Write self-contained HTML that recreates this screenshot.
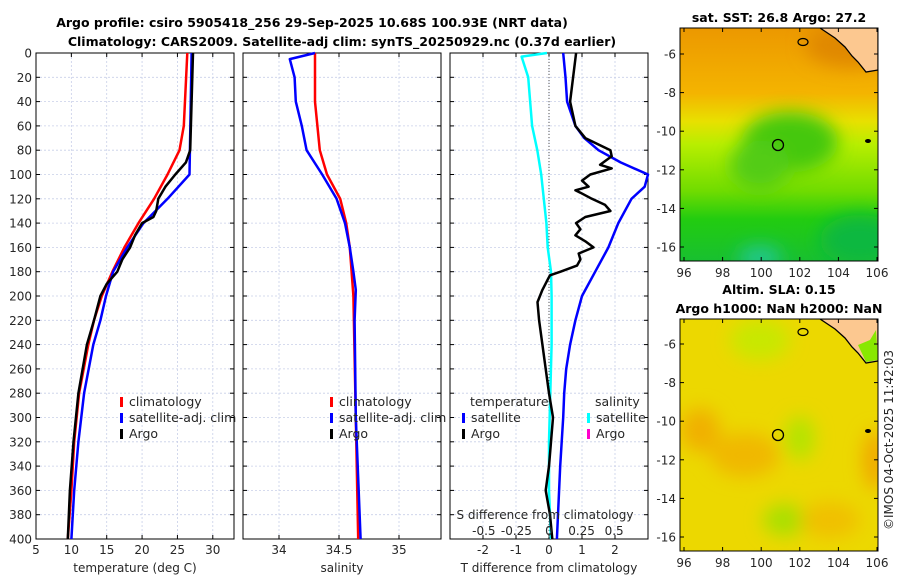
<!DOCTYPE html>
<html><head><meta charset="utf-8">
<style>
body{margin:0;background:#fff;}
svg text{font-family:"DejaVu Sans","Liberation Sans",sans-serif;fill:#262626;}
.t{font-weight:bold;font-size:12.5px;fill:#000;}
.tk{font-size:12px;}
.grid{stroke:#c8cfe8;stroke-width:0.8;stroke-dasharray:2,2;}
</style></head>
<body>
<svg id="chart" width="900" height="580" xmlns="http://www.w3.org/2000/svg">
<defs>
<filter id="bl" x="-50%" y="-50%" width="200%" height="200%"><feGaussianBlur stdDeviation="9"/></filter>
<clipPath id="c1"><rect x="680" y="28" width="198" height="233"/></clipPath>
<clipPath id="c2"><rect x="680" y="319" width="198" height="232"/></clipPath>
<linearGradient id="g1" x1="0" y1="0" x2="0" y2="1">
<stop offset="0" stop-color="#ec9800"/><stop offset="0.28" stop-color="#f4b400"/><stop offset="0.4" stop-color="#e8e000"/><stop offset="0.5" stop-color="#b8ee00"/><stop offset="0.7" stop-color="#70dc00"/><stop offset="0.82" stop-color="#22cc10"/><stop offset="1" stop-color="#18c030"/>
</linearGradient>
</defs>
<text class="t" x="312" y="27" text-anchor="middle">Argo profile: csiro 5905418_256 29-Sep-2025 10.68S 100.93E (NRT data)</text>
<text class="t" x="342" y="46" text-anchor="middle">Climatology: CARS2009. Satellite-adj clim: synTS_20250929.nc (0.37d earlier)</text>
<g id="axes"></g>
<g id="maps">
<g clip-path="url(#c1)">
<rect x="680" y="28" width="198" height="233" fill="url(#g1)"/>
<g filter="url(#bl)">
<ellipse cx="790" cy="142" rx="48" ry="30" fill="#44c810"/>
<ellipse cx="760" cy="165" rx="30" ry="25" fill="#52cc12"/>
<ellipse cx="760" cy="258" rx="22" ry="12" fill="#20c890"/>
<ellipse cx="860" cy="240" rx="40" ry="25" fill="#10b840"/>
<ellipse cx="850" cy="45" rx="45" ry="22" fill="#e08800"/>
</g>
<polygon points="820,28 835,38 845,47 852,56 858,62 866,72 878,70 878,28" fill="#fcc890" stroke="#000" stroke-width="1.3"/>
<ellipse cx="803" cy="42" rx="5" ry="3.5" fill="none" stroke="#000" stroke-width="1.2"/>
<ellipse cx="868" cy="141" rx="3" ry="2" fill="#000"/>
<circle cx="778" cy="145" r="5.5" fill="none" stroke="#000" stroke-width="1.3"/>
</g>
<rect x="680" y="28" width="198" height="233" fill="none" stroke="#000" stroke-width="1"/>
<g clip-path="url(#c2)">
<rect x="680" y="319" width="198" height="232" fill="#ecd800"/>
<g filter="url(#bl)">
<ellipse cx="700" cy="430" rx="20" ry="22" fill="#f0b000"/>
<ellipse cx="745" cy="455" rx="35" ry="22" fill="#f0b800"/>
<ellipse cx="875" cy="460" rx="12" ry="30" fill="#f0a800"/>
<ellipse cx="785" cy="520" rx="22" ry="16" fill="#a8e000"/>
<ellipse cx="800" cy="438" rx="15" ry="22" fill="#b4e400"/>
<ellipse cx="760" cy="340" rx="30" ry="20" fill="#c8e800"/>
<ellipse cx="830" cy="520" rx="30" ry="18" fill="#f0c000"/>
</g>
<polygon points="820,319 835,329 845,338 852,347 858,353 866,363 878,361 878,319" fill="#fcc890" stroke="#000" stroke-width="1.3"/>
<polygon points="858,345 870,340 876,330 878,360 866,362" fill="#88e800"/>
<ellipse cx="803" cy="332" rx="5" ry="3.5" fill="none" stroke="#000" stroke-width="1.2"/>
<ellipse cx="868" cy="431" rx="3" ry="2" fill="#000"/>
<circle cx="778" cy="435" r="5.5" fill="none" stroke="#000" stroke-width="1.3"/>
</g>
<rect x="680" y="319" width="198" height="232" fill="none" stroke="#000" stroke-width="1"/>
<text class="t" x="779" y="22" text-anchor="middle">sat. SST: 26.8 Argo: 27.2</text>
<text class="t" x="779" y="294" text-anchor="middle">Altim. SLA: 0.15</text>
<text class="t" x="779" y="313" text-anchor="middle">Argo h1000: NaN h2000: NaN</text>
<text class="tk" transform="translate(893,440) rotate(-90)" text-anchor="middle">©IMOS 04-Oct-2025 11:42:03</text>
</g>
</svg>
<script>
const NS="http://www.w3.org/2000/svg";
const depthTicks=[0,20,40,60,80,100,120,140,160,180,200,220,240,260,280,300,320,340,360,380,400];
const tempTicks=[5,10,15,20,25,30];
const salTicks=[34,34.5,35];
const tdiffTicks=[-2,-1,0,1,2];
const sdiffTicks=[-0.5,-0.25,0,0.25,0.5];
const sdiffLabels=["-0.5","-0.25","0","0.25","0.5"];
// temperature profiles [depth, value]
const tClimDepth=[0,60,80,100,120,140,160,180,200,220,240,280,320,360,400];
const tClimVal=[26.4,25.9,25.3,23.6,21.7,19.5,17.5,15.8,14.3,13.2,12.4,11.1,10.4,10.0,9.5];
const tSatDepth=[0,100,120,140,160,180,200,220,240,280,320,360,400];
const tSatVal=[27.0,26.7,23.6,20.2,17.9,15.9,14.9,14.1,13.1,11.8,11.0,10.4,10.0];
const tArgoDepth=[0,80,90,100,110,120,130,135,140,150,160,170,180,190,200,220,240,280,320,360,400];
const tArgoVal=[27.2,26.8,26.2,24.7,23.3,22.3,22.0,21.6,20.0,19.0,18.3,17.2,16.5,15.0,14.1,13.2,12.2,11.0,10.3,9.8,9.5];
// salinity
const sClimDepth=[0,40,80,100,120,140,160,200,300,400];
const sClimVal=[34.30,34.30,34.34,34.40,34.51,34.56,34.59,34.62,34.64,34.66];
const sSatDepth=[0,5,20,40,60,80,100,120,140,160,180,195,220,300,400];
const sSatVal=[34.30,34.09,34.13,34.14,34.19,34.23,34.36,34.48,34.55,34.59,34.62,34.64,34.63,34.64,34.68];
// differences
const dTSatDepth=[0,20,40,60,70,80,90,100,110,120,140,160,180,200,220,240,260,280,300,340,400];
const dTSatVal=[0.43,0.5,0.55,0.8,1.07,1.5,2.17,3.0,2.9,2.5,2.1,1.8,1.4,1.0,0.8,0.64,0.52,0.46,0.43,0.34,0.24];
const dTArgoDepth=[0,20,40,60,70,80,85,92,95,100,105,110,113,115,120,125,130,135,140,145,150,155,160,165,170,175,180,183,186,195,205,220,240,260,280,300,320,340,360,380,400];
const dTArgoVal=[0.82,0.73,0.64,0.8,1.1,1.86,1.9,1.55,1.9,1.25,1.0,1.2,0.8,0.95,1.3,1.7,1.86,1.1,0.82,0.95,0.8,1.1,1.35,0.9,0.95,0.85,0.35,0.03,-0.03,-0.2,-0.35,-0.3,-0.2,-0.1,0,0.12,0.06,0,-0.1,0.03,0.1];
const dSSatDepth=[0,3,20,60,80,100,140,160,180,200,240,280,320,360,400];
const dSSatVal=[-0.015,-0.21,-0.16,-0.13,-0.09,-0.06,-0.02,-0.01,0.015,0.02,0.02,0.01,0,0,0.015];

const Y0=53,Y1=539;
const yS=d=>Y0+d/400*(Y1-Y0);
function lin(d0,d1,r0,r1){return v=>r0+(v-d0)/(d1-d0)*(r1-r0);}
const xT=lin(5,33,36,234), xS=lin(33.7,35.35,243,441), xDT=lin(-3,3,450,648), xDS=lin(-0.76,0.76,450,648);
const lonX1=lin(96,106,684,877), latY1=lin(-6,-16,54,247), latY2=lin(-6,-16,344,537);
const axes=document.getElementById('axes');
function el(tag,attrs,parent){const e=document.createElementNS(NS,tag);for(const k in attrs)e.setAttribute(k,attrs[k]);(parent||axes).appendChild(e);return e;}
function txt(x,y,s,anchor,cls){const t=el('text',{x:x,y:y,'text-anchor':anchor||'middle',class:cls||'tk'});t.textContent=s;return t;}
function panel(name,x0,x1,xf,ticks,labels,showY){
  const g=el('g',{});
  
  
  depthTicks.forEach(d=>{if(d>0&&d<400)el('line',{x1:x0,x2:x1,y1:yS(d),y2:yS(d),class:'grid'},g);
    el('line',{x1:x0,x2:x0+4,y1:yS(d),y2:yS(d),stroke:'#000'},g);el('line',{x1:x1-4,x2:x1,y1:yS(d),y2:yS(d),stroke:'#000'},g);
    if(showY){const t=txt(x0-4,yS(d)+4.5,String(d),'end');g.appendChild(t);}});
  ticks.forEach((v,i)=>{const x=xf(v);el('line',{x1:x,x2:x,y1:Y0,y2:Y1,class:'grid'},g);
    el('line',{x1:x,x2:x,y1:Y1,y2:Y1-4,stroke:'#000'},g);el('line',{x1:x,x2:x,y1:Y0,y2:Y0+4,stroke:'#000'},g);
    if(labels){const t=txt(x,Y1+15,labels[i]);g.appendChild(t);}});
  el('rect',{x:x0,y:Y0,width:x1-x0,height:Y1-Y0,fill:'none',stroke:'#000','stroke-width':1},g);
  return g;
}
function line(g,name,ds,vs,xf,color,w){
  const p=el('path',{d:ds.map((d,i)=>(i?'L':'M')+xf(vs[i]).toFixed(1)+','+yS(d).toFixed(1)).join(''),fill:'none',stroke:color,'stroke-width':w||2.5,'stroke-linejoin':'round'},g);
  
  
}
function legend(g,x,y,items){items.forEach((it,i)=>{el('rect',{x:x,y:y+i*16-9,width:3,height:10,fill:it[1]},g);const t=txt(x+9,y+i*16,it[0],'start');t.setAttribute('style','font-size:12.5px');g.appendChild(t);});}

const g1=panel('temperature-panel',36,234,xT,tempTicks,tempTicks.map(String),true);
line(g1,'temp-climatology-line',tClimDepth,tClimVal,xT,'#f00');
line(g1,'temp-satellite-line',tSatDepth,tSatVal,xT,'#00f');
line(g1,'temp-argo-line',tArgoDepth,tArgoVal,xT,'#000');
legend(g1,120,406,[['climatology','#f00'],['satellite-adj. clim','#00f'],['Argo','#000']]);
g1.appendChild(txt(135,572,'temperature (deg C)'));

const g2=panel('salinity-panel',243,441,xS,salTicks,salTicks.map(String),false);
line(g2,'sal-climatology-line',sClimDepth,sClimVal,xS,'#f00');
line(g2,'sal-satellite-line',sSatDepth,sSatVal,xS,'#00f');
legend(g2,330,406,[['climatology','#f00'],['satellite-adj. clim','#00f'],['Argo','#000']]);
g2.appendChild(txt(342,572,'salinity'));

const g3=panel('difference-panel',450,648,xDT,tdiffTicks,tdiffTicks.map(String),false);
el('line',{x1:xDT(0),x2:xDT(0),y1:Y0,y2:Y1,stroke:'#555','stroke-dasharray':'1,2'},g3);
line(g3,'tdiff-satellite-line',dTSatDepth,dTSatVal,xDT,'#00f');
line(g3,'sdiff-satellite-line',dSSatDepth,dSSatVal,xDS,'#0ff');
line(g3,'tdiff-argo-line',dTArgoDepth,dTArgoVal,xDT,'#000');
{const t=txt(470,406,'temperature','start');t.setAttribute('style','font-size:12.5px');g3.appendChild(t);
 const t2=txt(595,406,'salinity','start');t2.setAttribute('style','font-size:12.5px');g3.appendChild(t2);}
legend(g3,462,422,[['satellite','#00f'],['Argo','#000']]);
legend(g3,587,422,[['satellite','#0ff'],['Argo','#f0c']]);
g3.appendChild(txt(545,519,'S difference from climatology'));
sdiffTicks.forEach((v,i)=>{const t=txt(xDS(v),535,sdiffLabels[i]);g3.appendChild(t);});
g3.appendChild(txt(549,572,'T difference from climatology'));

// map ticks
const mapG=document.getElementById('maps');
const lonTicks=[96,98,100,102,104,106], latTicks=[-6,-8,-10,-12,-14,-16];
[[28,261,latY1],[319,551,latY2]].forEach(([top,bot,ly])=>{
  lonTicks.forEach(v=>{const x=lonX1(v);el('line',{x1:x,x2:x,y1:bot,y2:bot-4,stroke:'#000'},mapG);el('line',{x1:x,x2:x,y1:top,y2:top+4,stroke:'#000'},mapG);mapG.appendChild(txt(x,bot+16,String(v)));});
  latTicks.forEach(v=>{const y=ly(v);el('line',{x1:680,x2:684,y1:y,y2:y,stroke:'#000'},mapG);el('line',{x1:874,x2:878,y1:y,y2:y,stroke:'#000'},mapG);mapG.appendChild(txt(676,y+4.5,String(v),'end'));});
});
</script>
</body></html>
